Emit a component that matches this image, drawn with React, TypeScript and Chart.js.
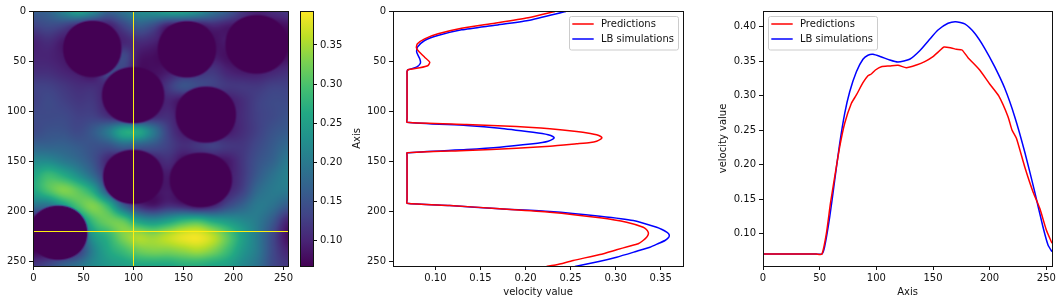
import React, { useEffect, useRef } from "react";
import { Chart, registerables } from "chart.js";

Chart.register(...registerables);

const WIDTH = 1062;
const HEIGHT = 304;
const FONT = "'DejaVu Sans'";

// ---- heat map field ----
const fieldAxis = [0, 15, 30, 45, 60, 75, 90, 105, 120, 135, 150, 165, 180, 195, 210, 225, 240, 255];
const fieldRows = [
  [.16, .17, .21, .25, .22, .17, .19, .22, .23, .25, .25, .23, .19, .16, .12, .10, .11, .12],
  [.13, .14, .13, .10, .08, .09, .13, .16, .14, .09, .08, .08, .10, .09, .08, .07, .07, .08],
  [.10, .11, .09, .08, .07, .08, .10, .11, .10, .08, .07, .07, .08, .09, .07, .07, .07, .07],
  [.10, .10, .09, .07, .07, .08, .14, .09, .08, .07, .07, .07, .09, .08, .07, .07, .07, .08],
  [.11, .11, .10, .09, .08, .14, .13, .08, .08, .09, .10, .11, .12, .10, .09, .09, .10, .11],
  [.13, .13, .12, .11, .11, .10, .08, .07, .08, .12, .15, .14, .13, .12, .12, .12, .13, .13],
  [.13, .14, .13, .12, .12, .09, .07, .07, .08, .10, .08, .07, .08, .09, .11, .13, .14, .14],
  [.14, .14, .14, .13, .13, .11, .08, .07, .10, .11, .08, .07, .07, .09, .11, .13, .14, .15],
  [.14, .15, .15, .14, .16, .20, .26, .26, .20, .13, .09, .08, .08, .09, .11, .13, .15, .16],
  [.17, .17, .17, .16, .15, .15, .17, .16, .15, .13, .11, .12, .13, .12, .12, .14, .16, .18],
  [.22, .22, .20, .18, .15, .10, .07, .07, .09, .11, .08, .08, .08, .09, .12, .15, .17, .20],
  [.26, .29, .27, .23, .18, .11, .07, .07, .08, .09, .07, .07, .07, .09, .12, .16, .19, .21],
  [.26, .30, .33, .31, .26, .15, .08, .07, .08, .09, .07, .07, .08, .10, .13, .18, .20, .20],
  [.19, .19, .24, .30, .33, .28, .17, .11, .09, .11, .10, .08, .10, .14, .17, .20, .19, .16],
  [.08, .09, .11, .20, .29, .32, .31, .25, .23, .25, .28, .29, .26, .24, .22, .20, .16, .10],
  [.07, .07, .08, .13, .24, .28, .33, .35, .34, .36, .38, .385, .36, .31, .25, .20, .14, .08],
  [.07, .07, .08, .12, .21, .26, .29, .32, .33, .33, .34, .35, .33, .29, .24, .20, .14, .10],
  [.12, .14, .17, .19, .22, .24, .25, .26, .26, .26, .27, .27, .26, .25, .22, .19, .14, .12],
];

const obstacleX = [59, 100, 154, 224, 173, 100, 168, 25];
const obstacleY = [37.5, 84, 38, 33, 103.5, 166, 169, 222];
const obstacleRx = [29, 31, 29, 31, 30, 30, 31, 29];
const obstacleRy = [28, 28, 28, 29, 28, 27, 27, 27];

const crossColumn = [100, 100];
const crossColumnAxis = [-0.5, 254.5];
const crossRowAxis = [-0.5, 254.5];
const crossRow = [220, 220];

const fieldMin = 0.0677;
const fieldMax = 0.3934;

const viridisStops = ["#440154", "#482475", "#414487", "#355f8d", "#2a788e", "#21918c", "#22a884", "#44bf70", "#7ad151", "#bddf26", "#fde725"];

// ---- vertical profile at column 100 ----
const colPredAxis = [0, 6.3, 11.7, 16.7, 22.3, 27.3, 32.3, 36.3, 39.7, 45.7, 50.7, 54, 56.3, 58.3, 60, 63, 107, 110.7, 113, 115, 117.3, 120, 122, 123.3, 125, 126.3, 127.6, 129.7, 131, 132.3, 134.7, 136.7, 139, 141.3, 144, 188, 191.7, 194, 197.3, 200.7, 206.3, 210.7, 215.7, 218, 220.7, 223, 225.7, 229, 232.3, 235, 238.3, 243, 249, 253.3, 255];
const colPredValue = [.2326, .2029, .166, .129, .1029, .088, .080, .0789, .0814, .088, .0937, .0918, .0826, .0696, .0685, .0685, .0685, .0685, .1344, .19, .227, .2567, .272, .2789, .2835, .2848, .2835, .2789, .272, .2567, .227, .19, .1344, .0685, .0685, .0685, .0685, .1159, .1714, .227, .2826, .3122, .3307, .3342, .3362, .3362, .3344, .3305, .3251, .314, .3011, .2826, .2529, .2344, .2233];
const colLbAxis = [0, 9, 13.7, 18.3, 24, 29, 35.7, 40.7, 47.3, 51.7, 55.7, 58.3, 60, 63, 107, 110.7, 114, 116.7, 120.7, 122, 123.3, 125, 126.3, 127.6, 129.7, 131, 132.3, 135.7, 138, 141.3, 144, 188, 191.7, 194, 197.3, 200, 204.7, 209, 215.7, 218, 220.7, 222.5, 224, 226, 229, 232, 235.7, 240, 245.7, 250, 255];
const colLbValue = [.2448, .2029, .166, .129, .1026, .088, .080, .0792, .0826, .0833, .0789, .0696, .0685, .0685, .0685, .0685, .1344, .1714, .2084, .2185, .2251, .2303, .2318, .2303, .2251, .2185, .2084, .1714, .1344, .0685, .0685, .0685, .0685, .1159, .1714, .227, .2826, .3196, .3456, .3515, .3567, .359, .3596, .3588, .3548, .3475, .3381, .3225, .3011, .2815, .2548];

// ---- horizontal profile at row 220 ----
const rowPredAxis = [0, 47, 52, 55.9, 59.5, 63.3, 67.7, 72.1, 78, 82.4, 88.2, 92.6, 95.6, 99.2, 104.4, 111.8, 119.1, 126.5, 135.4, 142.7, 150, 155.9, 159.7, 166.2, 170.6, 175.6, 180.9, 191.2, 200, 208, 216.2, 219.7, 223.6, 230.9, 238.2, 244.2, 250, 255];
const rowPredValue = [.0705, .0705, .0705, .10, .144, .1826, .2261, .26, .289, .301, .3188, .329, .3314, .3372, .342, .343, .344, .3406, .3445, .3493, .3565, .3652, .3706, .3691, .3672, .3662, .3551, .3372, .317, .2996, .2696, .2503, .2383, .1971, .1609, .1368, .1054, .0861];
const rowLbAxis = [0, 47, 52, 54.4, 58.9, 63.3, 67.7, 72.1, 76.5, 82.4, 88.2, 92.6, 97, 104, 111.8, 119.1, 129.4, 138.3, 146.5, 154.4, 163.3, 170, 178, 186.8, 195.6, 204.4, 213.3, 222.1, 230.9, 239.7, 247, 251.5, 255];
const rowLbValue = [.0705, .0705, .0705, .0812, .1246, .1778, .231, .2745, .3058, .3348, .3528, .3586, .36, .3565, .3517, .3488, .3528, .3652, .3807, .3952, .4049, .4072, .4039, .3904, .3687, .342, .3107, .2696, .2188, .1609, .1101, .0836, .0739];

const legendLabels = ["Predictions", "LB simulations"];
const tickTextColor = "#111";

function hexToRgb(hex: string) {
  return [parseInt(hex.slice(1, 3), 16), parseInt(hex.slice(3, 5), 16), parseInt(hex.slice(5, 7), 16)];
}
const viridisRgb = viridisStops.map(hexToRgb);

function viridis(t: number) {
  const c = Math.min(1, Math.max(0, t)) * (viridisRgb.length - 1);
  const i = Math.min(viridisRgb.length - 2, Math.floor(c));
  const f = c - i;
  return [0, 1, 2].map((k) => viridisRgb[i][k] * (1 - f) + viridisRgb[i + 1][k] * f);
}

function catmull(a: number, b: number, c: number, d: number, t: number) {
  return b + 0.5 * t * (c - a + t * (2 * a - 5 * b + 4 * c - d + t * (3 * (b - c) + d - a)));
}

function sampleField(x: number, y: number) {
  const step = fieldAxis[1] - fieldAxis[0];
  const n = fieldAxis.length;
  const cx = Math.min(n - 1.001, x / step);
  const cy = Math.min(n - 1.001, y / step);
  const ix = Math.floor(cx);
  const iy = Math.floor(cy);
  const g = (r: number, c: number) => fieldRows[Math.max(0, Math.min(n - 1, r))][Math.max(0, Math.min(n - 1, c))];
  const rows = [-1, 0, 1, 2].map((dr) =>
    catmull(g(iy + dr, ix - 1), g(iy + dr, ix), g(iy + dr, ix + 1), g(iy + dr, ix + 2), cx - ix)
  );
  let v = catmull(rows[0], rows[1], rows[2], rows[3], cy - iy);
  for (let k = 0; k < obstacleX.length; k++) {
    const dx = Math.abs(x - obstacleX[k]) / obstacleRx[k];
    const dy = Math.abs(y - obstacleY[k]) / obstacleRy[k];
    const d = Math.pow(Math.pow(dx, 2.1) + Math.pow(dy, 2.1), 1 / 2.1);
    const edge = Math.min(1, Math.max(0, (d - 0.97) / 0.08));
    v = fieldMin + (v - fieldMin) * edge;
  }
  return v;
}

let fieldImage: HTMLCanvasElement | null = null;
function getFieldImage() {
  if (fieldImage) return fieldImage;
  const c = document.createElement("canvas");
  c.width = 256;
  c.height = 256;
  const ctx = c.getContext("2d")!;
  const img = ctx.createImageData(256, 256);
  for (let y = 0; y < 256; y++) {
    for (let x = 0; x < 256; x++) {
      const col = viridis((sampleField(x, y) - fieldMin) / (fieldMax - fieldMin));
      const o = (y * 256 + x) * 4;
      img.data[o] = col[0];
      img.data[o + 1] = col[1];
      img.data[o + 2] = col[2];
      img.data[o + 3] = 255;
    }
  }
  ctx.putImageData(img, 0, 0);
  fieldImage = c;
  return c;
}

const heatPlugin = {
  id: "heat",
  beforeDatasetsDraw(chart: any) {
    const { ctx, scales } = chart;
    const x0 = scales.x.getPixelForValue(-0.5);
    const x1 = scales.x.getPixelForValue(254.5);
    const y0 = scales.y.getPixelForValue(-0.5);
    const y1 = scales.y.getPixelForValue(254.5);
    ctx.save();
    ctx.imageSmoothingEnabled = true;
    ctx.drawImage(getFieldImage(), x0, y0, x1 - x0, y1 - y0);
    ctx.restore();
  },
};

const framePlugin = {
  id: "frame",
  afterDatasetsDraw(chart: any) {
    const { ctx, chartArea: a } = chart;
    ctx.save();
    ctx.strokeStyle = "#111";
    ctx.lineWidth = 1;
    ctx.strokeRect(a.left + 0.5, a.top + 0.5, a.right - a.left, a.bottom - a.top);
    ctx.restore();
  },
};

function legendPlugin(boxLeft: number) {
  return {
    id: "boxLegend",
    afterDraw(chart: any) {
      const { ctx } = chart;
      const top = 16;
      const w = 109;
      const h = 33.5;
      ctx.save();
      ctx.beginPath();
      ctx.roundRect(boxLeft + 0.5, top + 0.5, w, h, 2);
      ctx.fillStyle = "rgba(255,255,255,0.8)";
      ctx.fill();
      ctx.strokeStyle = "#cccccc";
      ctx.lineWidth = 1;
      ctx.stroke();
      ctx.font = `10px ${FONT}`;
      ctx.textBaseline = "middle";
      legendLabels.forEach((label, i) => {
        const y = 24 + i * 15;
        ctx.strokeStyle = i === 0 ? "red" : "blue";
        ctx.lineWidth = 1.5;
        ctx.beginPath();
        ctx.moveTo(boxLeft + 3.3, y);
        ctx.lineTo(boxLeft + 24.7, y);
        ctx.stroke();
        ctx.fillStyle = tickTextColor;
        ctx.fillText(label, boxLeft + 32, y);
      });
      ctx.restore();
    },
  };
}

function axisX(min: number, max: number, step: number, height: number, title: string | null, fmt: (v: number) => string) {
  return {
    type: "linear",
    min,
    max,
    afterFit(s: any) { s.height = height; },
    border: { display: false },
    grid: { drawOnChartArea: false, drawTicks: true, tickLength: 4, tickColor: "#111", tickWidth: 1 },
    ticks: { stepSize: step, includeBounds: false, autoSkip: false, maxRotation: 0, padding: 2, color: tickTextColor, font: { size: 10, family: FONT }, callback: (v: any) => fmt(Number(v)) },
    title: title ? { display: true, text: title, color: tickTextColor, font: { size: 10, family: FONT }, padding: 0 } : { display: false },
  };
}

function axisY(min: number, max: number, step: number, width: number, reverse: boolean, title: string | null, fmt: (v: number) => string, position = "left") {
  return {
    type: "linear",
    position,
    min,
    max,
    reverse,
    afterFit(s: any) { s.width = width; },
    border: { display: false },
    grid: { drawOnChartArea: false, drawTicks: true, tickLength: 4, tickColor: "#111", tickWidth: 1 },
    ticks: { stepSize: step, includeBounds: false, autoSkip: false, maxRotation: 0, padding: 3, color: tickTextColor, font: { size: 10, family: FONT }, callback: (v: any) => fmt(Number(v)) },
    title: title ? { display: true, text: title, color: tickTextColor, font: { size: 10, family: FONT }, padding: 0 } : { display: false },
  };
}

const int = (v: number) => String(Math.round(v));
const two = (v: number) => v.toFixed(2);

function pairs(xs: number[], ys: number[]) {
  return xs.map((x, i) => ({ x, y: ys[i] }));
}

function lineSet(label: string, color: string, data: any[]) {
  return { label, data, borderColor: color, backgroundColor: color, borderWidth: 1.5, pointRadius: 0, showLine: true, tension: 0.2, fill: false, borderJoinStyle: "round" };
}

function base(padding: any, scales: any) {
  return {
    responsive: false,
    animation: false,
    events: [],
    layout: { padding },
    scales,
    plugins: { legend: { display: false }, tooltip: { enabled: false }, title: { display: false } },
  };
}

function buildConfigs(): ((ctx: any) => any)[] {
  const top = 11;
  const bottom = 266;
  const heat = () => ({
    type: "scatter",
    data: {
      datasets: [
        { label: "column", data: pairs(crossColumn, crossColumnAxis), borderColor: "#ffee10", borderWidth: 1, pointRadius: 0, showLine: true },
        { label: "row", data: pairs(crossRowAxis, crossRow), borderColor: "#ffee10", borderWidth: 1, pointRadius: 0, showLine: true },
      ],
    },
    options: base(
      { left: 33 - 30, right: WIDTH - 288, top, bottom: HEIGHT - bottom - 20 },
      { x: axisX(-0.5, 254.5, 50, 20, null, int), y: axisY(-0.5, 254.5, 50, 30, true, null, int) }
    ),
    plugins: [heatPlugin, framePlugin],
  });
  const bar = (ctx: any) => ({
    type: "bar",
    data: {
      labels: ["value"],
      datasets: [
        {
          label: "colour scale",
          data: [[fieldMin, fieldMax]],
          barPercentage: 1,
          categoryPercentage: 1,
          backgroundColor: () => {
            const g = ctx.createLinearGradient(0, bottom, 0, top);
            viridisStops.forEach((c, i) => g.addColorStop(i / (viridisStops.length - 1), c));
            return g;
          },
        },
      ],
    },
    options: base(
      { left: 300, right: WIDTH - 313 - 30, top, bottom: HEIGHT - bottom },
      {
        x: { display: false, type: "category" },
        y: axisY(fieldMin, fieldMax, 0.05, 30, false, null, two, "right"),
      }
    ),
    plugins: [framePlugin],
  });
  const column = () => ({
    type: "scatter",
    data: {
      datasets: [
        lineSet(legendLabels[0], "red", pairs(colPredValue, colPredAxis)),
        lineSet(legendLabels[1], "blue", pairs(colLbValue, colLbAxis)),
      ],
    },
    options: base(
      { left: 393 - 42, right: WIDTH - 683, top, bottom: HEIGHT - bottom - 32 },
      { x: axisX(0.0529, 0.3748, 0.05, 32, "velocity value", two), y: axisY(-0.5, 254.5, 50, 42, true, "Axis", int) }
    ),
    plugins: [framePlugin, legendPlugin(569)],
  });
  const row = () => ({
    type: "scatter",
    data: {
      datasets: [
        lineSet(legendLabels[0], "red", pairs(rowPredAxis, rowPredValue)),
        lineSet(legendLabels[1], "blue", pairs(rowLbAxis, rowLbValue)),
      ],
    },
    options: base(
      { left: 763 - 46, right: WIDTH - 1052, top, bottom: HEIGHT - bottom - 32 },
      { x: axisX(0, 255, 50, 32, "Axis", int), y: axisY(0.0532, 0.4227, 0.05, 46, false, "velocity value", two) }
    ),
    plugins: [framePlugin, legendPlugin(768)],
  });
  return [heat, bar, column, row];
}

function Panel({ make }: { make: (ctx: any) => any }) {
  const ref = useRef<HTMLCanvasElement | null>(null);
  useEffect(() => {
    const canvas = ref.current!;
    const chart = new Chart(canvas, make(canvas.getContext("2d")));
    return () => chart.destroy();
  }, [make]);
  return <canvas ref={ref} width={WIDTH} height={HEIGHT} style={{ position: "absolute", left: 0, top: 0, width: WIDTH, height: HEIGHT }} />;
}

const configs = buildConfigs();

export default function App() {
  return (
    <div style={{ position: "fixed", left: 0, top: 0, width: WIDTH, height: HEIGHT, background: "#fff", overflow: "hidden" }}>
      {configs.map((make, i) => (
        <Panel key={i} make={make} />
      ))}
    </div>
  );
}
